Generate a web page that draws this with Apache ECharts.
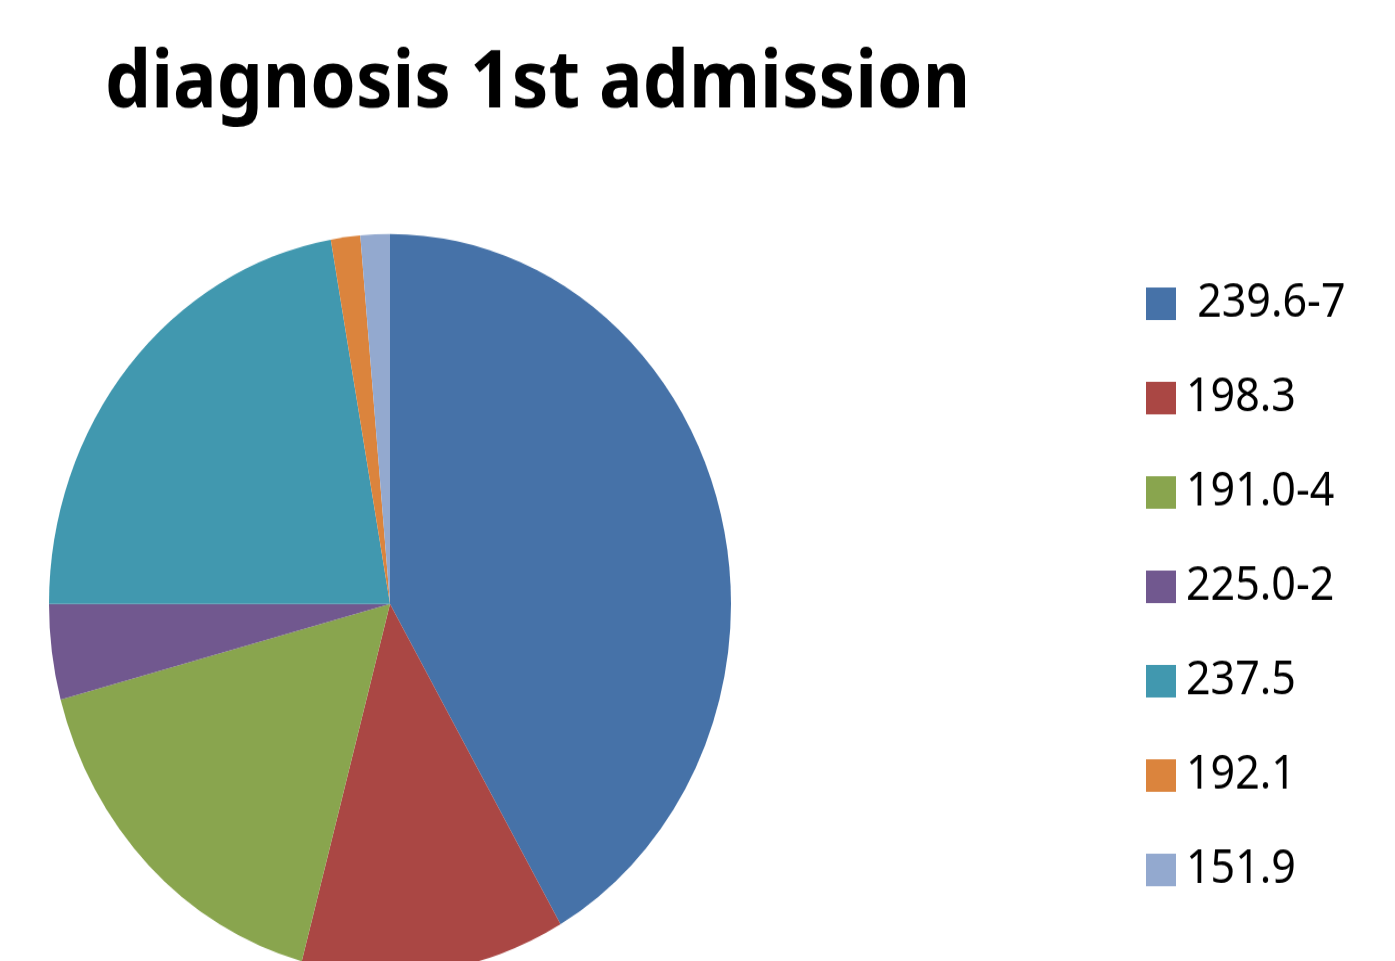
<!DOCTYPE html>
<html>
<head>
<meta charset="utf-8">
<script src="https://cdn.jsdelivr.net/npm/echarts@6/dist/echarts.min.js"></script>
<style>
html, body { margin: 0; padding: 0; background: #ffffff; overflow: hidden; }
#wrap { width: 1395px; height: 961px; overflow: hidden; }
#chart { width: 1395px; height: 886px; transform: scaleY(1.0847); transform-origin: 0 0; }
</style>
</head>
<body>
<div id="wrap"><div id="chart"></div></div>
<script>
const titleText = 'diagnosis 1st admission';
const categories = [' 239.6-7', '198.3', '191.0-4', '225.0-2', '237.5', '192.1', '151.9'];
const values = [30, 9, 12, 3, 16, 1, 1];
const colors = ['#4672A8', '#AA4744', '#89A54E', '#71588F', '#4198AF', '#DB843D', '#93A9CF'];

const chart = echarts.init(document.getElementById('chart'), null, { renderer: 'canvas' });
chart.setOption({
  animation: false,
  backgroundColor: '#ffffff',
  color: colors,
  title: {
    text: titleText,
    left: 100,
    top: 37,
    textStyle: { fontFamily: 'Noto Sans', fontWeight: 'bold', fontSize: 73, color: '#000000' }
  },
  legend: {
    orient: 'vertical',
    left: 1146,
    top: 258.5,
    padding: 0,
    itemWidth: 30,
    itemHeight: 30,
    itemGap: 44,
    icon: 'rect',
    data: categories,
    textStyle: { fontFamily: 'Noto Sans', fontSize: 43, color: '#000000', padding: [0, 0, 0, 5] }
  },
  series: [{
    type: 'pie',
    center: [390, 556.8],
    radius: 341,
    startAngle: 90,
    clockwise: true,
    label: { show: false },
    labelLine: { show: false },
    itemStyle: { borderWidth: 0 },
    emphasis: { disabled: true },
    data: categories.map((c, i) => ({ name: c, value: values[i] }))
  }]
});
</script>
</body>
</html>
